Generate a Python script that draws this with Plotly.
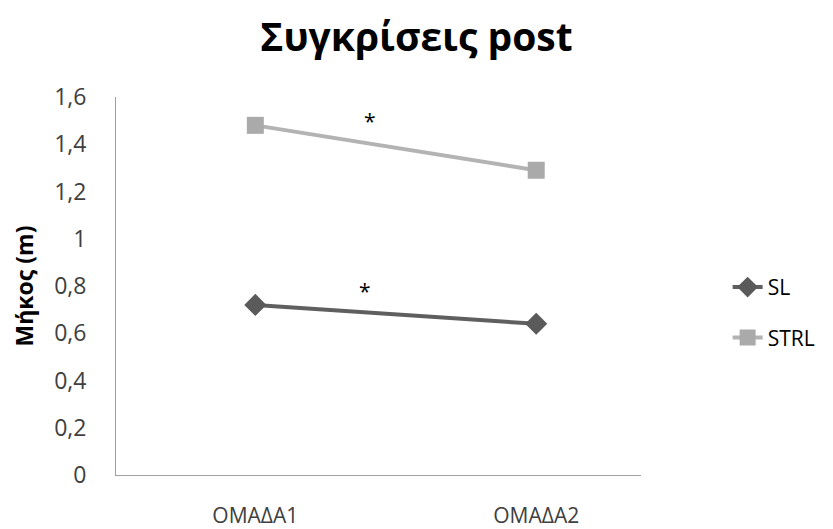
import plotly.graph_objects as go

groups = ["ΟΜΑΔΑ1", "ΟΜΑΔΑ2"]
sl = [0.72, 0.64]
strl = [1.48, 1.29]
y_ticks = [0, 0.2, 0.4, 0.6, 0.8, 1, 1.2, 1.4, 1.6]
y_tick_text = ["0", "0,2", "0,4", "0,6", "0,8", "1", "1,2", "1,4", "1,6"]

fig = go.Figure()
fig.add_trace(go.Scatter(
    x=groups, y=sl, name="SL", mode="lines+markers", legendgroup="a",
    line=dict(color="#5f5f5f", width=4),
    marker=dict(symbol="diamond", size=17, color="#5a5a5a"),
))
fig.add_trace(go.Scatter(
    x=groups, y=strl, name="STRL", mode="lines+markers", legendgroup="b",
    line=dict(color="#b3b3b3", width=4),
    marker=dict(symbol="square", size=17, color="#aaaaaa"),
))

# significance marks
fig.add_annotation(x=0.41, y=1.50, text="*", showarrow=False,
                   font=dict(size=21, color="#000000"))
fig.add_annotation(x=0.39, y=0.78, text="*", showarrow=False,
                   font=dict(size=21, color="#000000"))

fig.update_layout(
    width=833, height=529,
    margin=dict(l=116, r=186, t=97, b=54),
    paper_bgcolor="white", plot_bgcolor="white",
    font=dict(family="Open Sans", size=20, color="#404040"),
    title=dict(text="<b>Συγκρίσεις post</b>", x=0.5, xanchor="center",
               y=0.93, yanchor="middle", automargin=False,
               font=dict(family="Open Sans", size=39, color="#000000")),
    xaxis=dict(type="category", range=[-0.496, 1.373], showgrid=False,
               showline=True, linecolor="#a0a0a0", linewidth=1,
               ticks="", ticklabelstandoff=22, zeroline=False,
               automargin=False,
               tickfont=dict(size=21, color="#404040")),
    yaxis=dict(range=[0, 1.6], tickvals=y_ticks, ticktext=y_tick_text,
               showgrid=False, showline=True, linecolor="#a0a0a0",
               linewidth=1, ticks="", ticklabelstandoff=24, zeroline=False,
               automargin=False,
               title=dict(text="<b>Μήκος (m)</b>", standoff=14,
                          font=dict(size=23, color="#000000")),
               tickfont=dict(size=23, color="#404040")),
    legend=dict(x=1.165, xanchor="left", y=0.43, yanchor="middle",
                tracegroupgap=20, font=dict(size=21, color="#000000")),
)

fig.write_html("out.html", config={"displayModeBar": False},
               post_script="document.body.style.margin='0';")
